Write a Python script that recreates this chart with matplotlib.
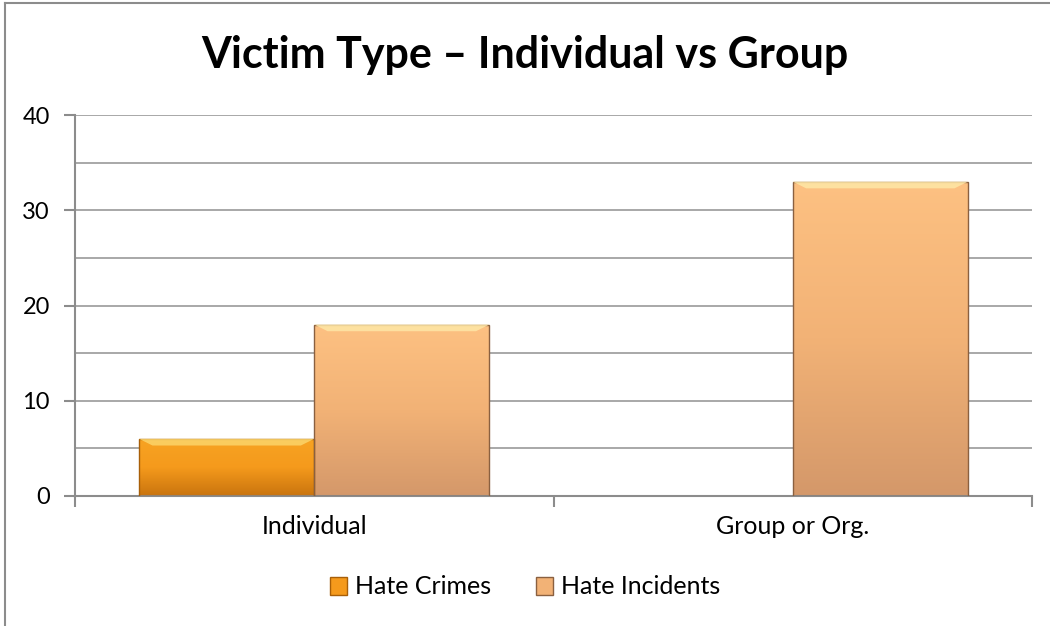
import numpy as np
import matplotlib.pyplot as plt
from matplotlib.patches import Rectangle, Polygon
from matplotlib.colors import LinearSegmentedColormap

# Data
categories = ["Individual", "Group or Org."]
hate_crimes = [6, 0]
hate_incidents = [18, 33]
series_names = ["Hate Crimes", "Hate Incidents"]

plt.rcParams['font.family'] = ['Lato', 'DejaVu Sans']

fig = plt.figure(figsize=(10.5, 6.26), dpi=100)
ax = fig.add_axes([75 / 1050, 130 / 626, 957 / 1050, 381 / 626])

# outer chart border (left and top visible)
fig.add_artist(plt.Line2D([5 / 1050, 5 / 1050], [0, 1 - 3 / 626], color="#8c8c8c", lw=1.5, transform=fig.transFigure))
fig.add_artist(plt.Line2D([5 / 1050, 1], [1 - 3 / 626, 1 - 3 / 626], color="#8c8c8c", lw=1.5, transform=fig.transFigure))

ax.set_xlim(0, 2)
ax.set_ylim(0, 40)

# gridlines every 5
for y in np.arange(5, 41, 5):
    ax.axhline(y, color="#9a9a9a", lw=1.2, zorder=0)

width = 0.366
x = np.arange(len(categories)) + 0.5

grads = {
    "Hate Crimes": ["#c9740e", "#f59a1c", "#f7a323"],
    "Hate Incidents": ["#d4986a", "#f2b276", "#fdc182"],
}
bevel_top = {"Hate Crimes": "#fbd46a", "Hate Incidents": "#fee7a6"}
edge_col = {"Hate Crimes": "#a85f08", "Hate Incidents": "#8a6040"}


def draw_bar(x0, h, name):
    if h <= 0:
        return
    cmap = LinearSegmentedColormap.from_list(name, grads[name])
    rect = Rectangle((x0, 0), width, h, facecolor="none", edgecolor=edge_col[name], lw=1.0, zorder=3)
    ax.add_patch(rect)
    grad = np.linspace(0, 1, 256).reshape(-1, 1)
    im = ax.imshow(grad, extent=[x0, x0 + width, 0, h], origin="lower", cmap=cmap,
                   aspect="auto", zorder=2)
    im.set_clip_path(rect)
    # top bevel
    bh = 0.7
    bw = 0.028
    top = Polygon([[x0, h], [x0 + width, h], [x0 + width - bw, h - bh], [x0 + bw, h - bh]],
                  closed=True, facecolor=bevel_top[name], edgecolor="none", alpha=0.85, zorder=3)
    ax.add_patch(top)


for i in range(len(categories)):
    draw_bar(x[i] - width, hate_crimes[i], "Hate Crimes")
    draw_bar(x[i], hate_incidents[i], "Hate Incidents")

ax.set_xlim(0, 2)
ax.set_ylim(0, 40)

for s in ["top", "right"]:
    ax.spines[s].set_visible(False)
for s in ["left", "bottom"]:
    ax.spines[s].set_color("#8c8c8c")
    ax.spines[s].set_linewidth(1.5)

ax.set_yticks([0, 10, 20, 30, 40])
ax.tick_params(axis="y", length=8, width=1.5, color="#8c8c8c", labelsize=17, pad=10)
ax.set_xticks([0, 1, 2])
ax.set_xticklabels([])
ax.tick_params(axis="x", length=8, width=1.5, color="#8c8c8c")
ax.set_xticks(x, minor=True)
ax.set_xticklabels(categories, minor=True)
ax.tick_params(axis="x", which="minor", length=0, labelsize=18, pad=14)

fig.text(0.5, 1 - 55 / 626, "Victim Type – Individual vs Group", ha="center", va="center",
         fontsize=31, fontweight="bold")

# legend
handles = [Rectangle((0, 0), 1, 1, facecolor=grads[n][1], edgecolor=edge_col[n]) for n in series_names]
fig.legend(handles, series_names, loc="center", bbox_to_anchor=(0.5, 1 - 587 / 626), ncol=2,
           frameon=False, fontsize=18, handlelength=0.7, handleheight=0.7, handletextpad=0.3,
           columnspacing=1.8)

fig.savefig("out.png", dpi=100)
